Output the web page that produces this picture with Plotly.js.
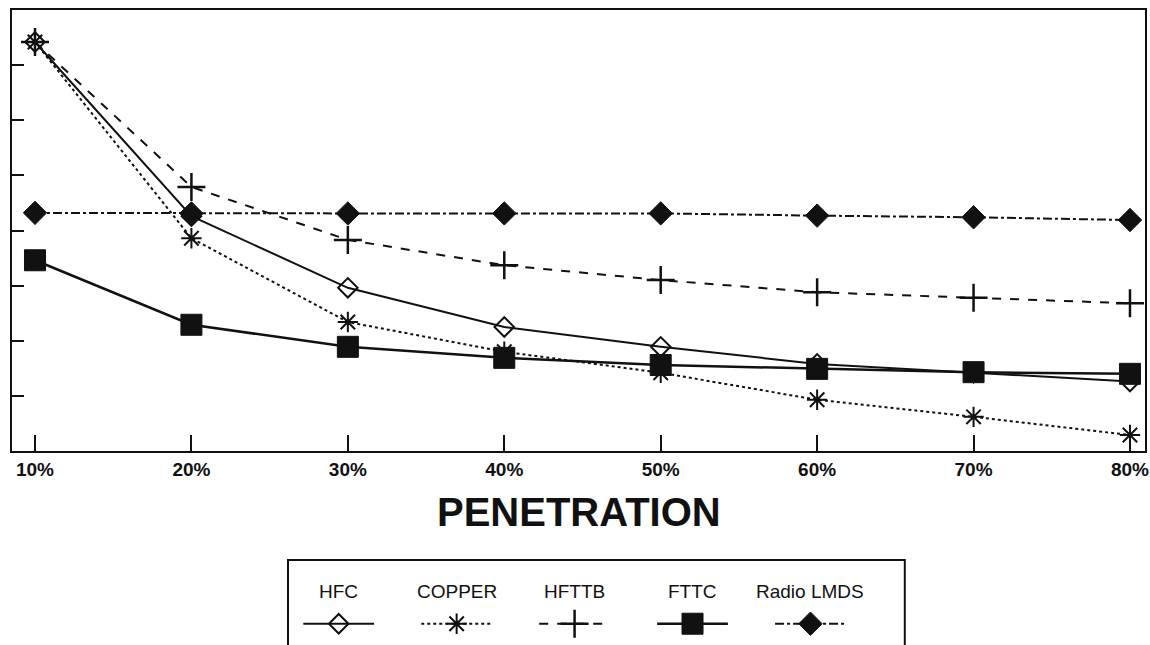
<!DOCTYPE html>
<html>
<head>
<meta charset="utf-8">
<script src="https://cdn.plot.ly/plotly-3.0.1.min.js"></script>
<style>html,body{margin:0;padding:0;background:#fff;}#chart{width:1150px;height:645px;}</style>
</head>
<body>
<div id="chart"></div>
<script>
// ---- data ----
const penetration = [10, 20, 30, 40, 50, 60, 70, 80];
const tickLabels = ["10%", "20%", "30%", "40%", "50%", "60%", "70%", "80%"];
const seriesNames = ["HFC", "COPPER", "HFTTB", "FTTC", "Radio LMDS"];
const hfc    = [7.42, 4.26, 2.96, 2.25, 1.89, 1.58, 1.42, 1.26];
const copper = [7.42, 3.86, 2.34, 1.80, 1.42, 0.93, 0.62, 0.29];
const hfttb  = [7.42, 4.79, 3.83, 3.37, 3.10, 2.88, 2.78, 2.68];
const fttc   = [3.46, 2.29, 1.89, 1.69, 1.56, 1.49, 1.43, 1.40];
const radio  = [4.32, 4.31, 4.31, 4.31, 4.31, 4.27, 4.24, 4.19];
const yTickVals = [1, 2, 3, 4, 5, 6, 7];

// ---- styles ----
const seriesValues = [hfc, copper, hfttb, fttc, radio];
const styles = [
  {dash: "solid",   width: 2,   symbol: "diamond-open",    size: 15, mlw: 2},
  {dash: "dot",     width: 2,   symbol: "asterisk-open",   size: 17, mlw: 2},
  {dash: "dash",    width: 2,   symbol: "cross-thin-open", size: 20, mlw: 2.5},
  {dash: "solid",   width: 2.5, symbol: "square",          size: 21, mlw: 1},
  {dash: "dashdot", width: 2,   symbol: "diamond",         size: 18, mlw: 1}
];

const traces = [];
seriesValues.forEach((vals, i) => {
  const s = styles[i];
  traces.push({
    x: penetration, y: vals, type: "scatter", mode: "lines+markers",
    name: seriesNames[i], showlegend: false, hoverinfo: "skip",
    line: {color: "#111", width: s.width, dash: s.dash},
    marker: {symbol: s.symbol, size: s.size, color: "#111", line: {color: "#111", width: s.mlw}},
    xaxis: "x", yaxis: "y"
  });
});

// custom legend: sample lines drawn on a hidden secondary axis
const legendAnn = [];
seriesNames.forEach((nm, i) => {
  const s = styles[i];
  traces.push({
    x: [i - 0.3, i, i + 0.3], y: [0, 0, 0], type: "scatter", mode: "lines+markers",
    showlegend: false, hoverinfo: "skip",
    line: {color: "#111", width: s.width, dash: s.dash},
    marker: {symbol: s.symbol, size: [0, s.size, 0], opacity: [0, 1, 0], color: "#111",
             line: {color: "#111", width: s.mlw}},
    xaxis: "x2", yaxis: "y2"
  });
  legendAnn.push({
    xref: "x2", yref: "y2", x: i, y: 0.38, text: nm, showarrow: false,
    xanchor: "center", yanchor: "middle",
    font: {family: "Liberation Sans, Arial, sans-serif", size: 19, color: "#111"}
  });
});

const axisCommon = {
  showline: true, mirror: true, linecolor: "#111", linewidth: 2,
  ticks: "inside", tickcolor: "#111", tickwidth: 2,
  showgrid: false, zeroline: false, fixedrange: true
};

const layout = {
  width: 1150, height: 645,
  margin: {l: 12, r: 5, t: 10, b: 0, pad: 0},
  paper_bgcolor: "#fff", plot_bgcolor: "#fff",
  showlegend: false,
  xaxis: Object.assign({}, axisCommon, {
    range: [8.53, 80.96], anchor: "y", domain: [0, 1],
    tickvals: penetration, ticktext: tickLabels, ticklen: 16,
    tickfont: {family: "Liberation Sans, Arial, sans-serif", size: 19, color: "#111", weight: 700}
  }),
  yaxis: Object.assign({}, axisCommon, {
    range: [0, 8], domain: [0.3055, 1], anchor: "x",
    tickvals: yTickVals, ticklen: 12, showticklabels: false
  }),
  xaxis2: {domain: [0.2436, 0.788], range: [-0.43, 4.8], visible: false, anchor: "y2", fixedrange: true},
  yaxis2: {domain: [0, 0.134], range: [-0.25, 0.75], visible: false, anchor: "x2", fixedrange: true},
  shapes: [{
    type: "rect", xref: "paper", yref: "paper",
    x0: 0.2436, x1: 0.788, y0: -0.1, y1: 0.1339,
    line: {color: "#111", width: 2}, fillcolor: "rgba(0,0,0,0)"
  }],
  annotations: [{
    xref: "paper", yref: "paper", x: 0.5, y: 0.2094, text: "PENETRATION", showarrow: false,
    xanchor: "center", yanchor: "middle",
    font: {family: "Liberation Sans, Arial, sans-serif", size: 40, color: "#111", weight: 700}
  }].concat(legendAnn)
};

Plotly.newPlot("chart", traces, layout, {displayModeBar: false, staticPlot: true});
</script>
</body>
</html>
